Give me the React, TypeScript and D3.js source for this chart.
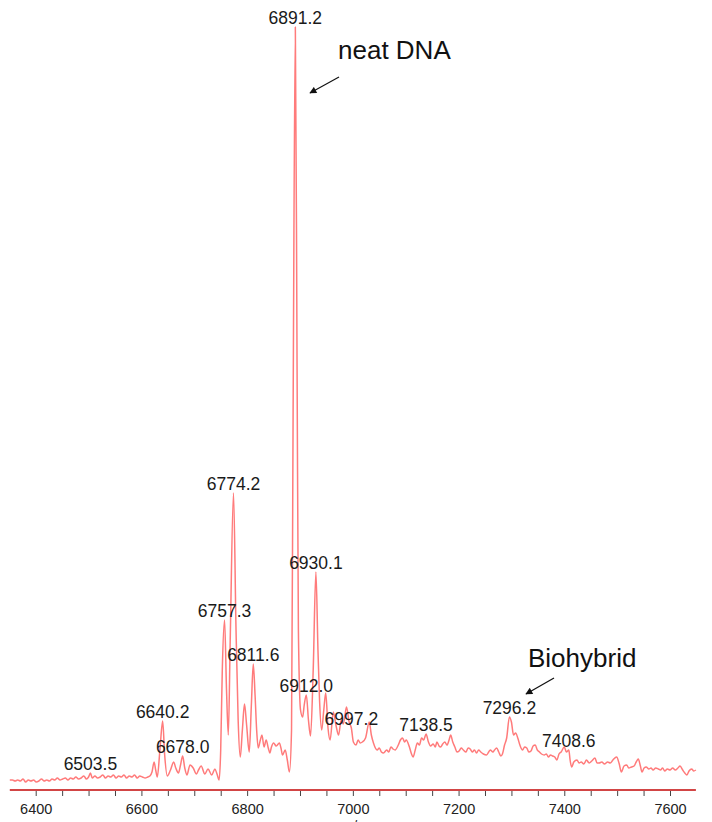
import React, { useEffect, useRef } from 'react';
import * as d3 from 'd3';

// MALDI spectrum: [m/z, intensity (a.u.)]
const spectrum: [number, number][] = [
  [6351, 10], [6356, 10], [6361, 9], [6366, 10], [6371, 9], [6376, 11], [6381, 8], [6386, 10],
  [6391, 9], [6396, 10], [6401, 8], [6406, 9], [6411, 11], [6416, 9], [6421, 10], [6426, 9],
  [6431, 11], [6436, 10], [6441, 12], [6446, 10], [6451, 11], [6456, 12], [6461, 10], [6466, 12],
  [6471, 11], [6476, 13], [6481, 11], [6486, 12], [6491, 14], [6496, 11], [6500, 13], [6503.5, 17],
  [6507, 12], [6512, 14], [6517, 12], [6522, 13], [6527, 15], [6532, 12], [6537, 14], [6542, 13],
  [6547, 15], [6552, 12], [6557, 14], [6562, 13], [6567, 15], [6572, 12], [6577, 14], [6582, 13],
  [6587, 15], [6592, 12], [6597, 14], [6602, 13], [6607, 12], [6612, 13], [6616, 14],
  [6620, 18], [6624, 28], [6627, 20], [6630, 13], [6635, 40], [6640.2, 69], [6644, 35], [6649, 14],
  [6655, 20], [6661, 28], [6665, 22], [6670, 17], [6674, 25], [6678, 34], [6682, 22], [6686, 15],
  [6692, 25], [6698, 22], [6704, 16], [6708, 20], [6713, 24], [6720, 16], [6726, 21], [6733, 15],
  [6739, 21], [6743, 16], [6747, 10], [6750, 40], [6753, 120], [6757.3, 170], [6761, 100],
  [6764.4, 55], [6768, 150], [6774.2, 297], [6779, 160], [6783, 70], [6787, 33], [6791, 60],
  [6795, 86], [6799, 65], [6804, 38], [6808, 85], [6811.6, 126], [6815, 95], [6818, 60], [6821, 42],
  [6825, 50], [6828, 55], [6832, 43], [6836, 50], [6840, 42], [6843, 37], [6846, 43], [6850, 47],
  [6855, 44], [6861, 47], [6864, 42], [6867, 35], [6872, 40], [6876, 30], [6880, 18], [6884, 60],
  [6887, 380], [6891.2, 763], [6894.5, 420], [6897, 160], [6901, 80], [6905, 73], [6908, 85],
  [6912, 95], [6916, 70], [6920, 54], [6925, 120], [6930.1, 218], [6934, 140], [6937, 90],
  [6941, 60], [6945, 80], [6948.7, 97], [6953, 62], [6957, 50], [6963, 78], [6968, 65], [6973, 55],
  [6978, 70], [6982, 66], [6988, 83], [6993, 68], [6997.2, 62], [7001, 48], [7006, 45], [7010, 50],
  [7014, 47], [7018, 48], [7024, 52], [7031, 68], [7035, 55], [7039, 47], [7046, 40], [7050, 42],
  [7054, 38], [7058, 37], [7064, 40], [7068, 38], [7072, 43], [7076, 41], [7080, 40], [7086, 45],
  [7090, 50], [7094, 52], [7098, 48], [7101, 50], [7107, 43], [7111, 36], [7114, 33], [7118, 40],
  [7122, 47], [7126, 45], [7130, 52], [7134, 50], [7138.5, 56], [7143, 48], [7147, 44], [7152, 46],
  [7156, 43], [7159, 48], [7163, 44], [7166, 43], [7170, 46], [7174, 48], [7178, 45], [7182, 50],
  [7185, 55], [7189, 48], [7193, 43], [7197, 38], [7201, 39], [7205, 42], [7209, 40], [7214, 38],
  [7218, 42], [7222, 41], [7226, 38], [7230, 40], [7234, 37], [7238, 40], [7242, 38], [7247, 36],
  [7253, 35], [7257, 38], [7260, 40], [7265, 38], [7268, 40], [7272, 42], [7276, 38], [7280, 34],
  [7283, 36], [7287, 45], [7291, 52], [7296.2, 73], [7300, 68], [7304, 55], [7308, 57], [7312, 52],
  [7316, 45], [7321, 40], [7325, 43], [7329, 42], [7333, 38], [7337, 39], [7341, 44], [7345, 45],
  [7349, 40], [7353, 38], [7357, 36], [7362, 35], [7366, 36], [7370, 33], [7374, 35], [7378, 34],
  [7382, 33], [7386, 30], [7390, 36], [7394, 38], [7400, 43], [7404, 38], [7408.6, 40], [7411, 30],
  [7414, 23], [7418, 28], [7424, 30], [7428, 27], [7432, 28], [7437, 26], [7442, 30], [7447, 27],
  [7452, 29], [7458, 32], [7462, 27], [7466, 27], [7471, 28], [7476, 26], [7482, 28], [7487, 27],
  [7492, 30], [7499, 33], [7504, 26], [7508, 18], [7513, 24], [7518, 25], [7522, 22], [7527, 23],
  [7532, 24], [7536, 28], [7540, 31], [7544, 24], [7547, 18], [7551, 22], [7555, 23], [7560, 21],
  [7564, 22], [7568, 20], [7573, 22], [7578, 21], [7582, 20], [7586, 22], [7590, 19], [7595, 21],
  [7600, 20], [7605, 22], [7610, 20], [7615, 22], [7619, 24], [7624, 20], [7628, 17], [7632, 15],
  [7636, 19], [7641, 21], [7645, 19], [7649, 20],
];

// peaks that carry an m/z label
const peakLabels = [
  6503.5, 6640.2, 6678.0, 6757.3, 6774.2, 6811.6, 6891.2, 6912.0, 6930.1, 6997.2, 7138.5, 7296.2,
  7408.6,
];

const tickValues = d3.range(6400, 7601, 50);
const labelledTicks = [6400, 6600, 6800, 7000, 7200, 7400, 7600];

const FONT = "'Liberation Sans', Arial, Helvetica, sans-serif";

const App: React.FC = () => {
  const ref = useRef<SVGSVGElement | null>(null);

  useEffect(() => {
    if (!ref.current) return;
    const svg = d3.select(ref.current);
    svg.selectAll('*').remove();

    const x = d3.scaleLinear().domain([6400, 7600]).range([35.7, 670]);
    const y = d3.scaleLinear().domain([0, 763]).range([790, 27]);
    const [xMin, xMax] = d3.extent(spectrum, (d) => d[0]) as [number, number];

    // arrow head
    svg
      .append('defs')
      .append('marker')
      .attr('id', 'arrow')
      .attr('viewBox', '0 0 10 10')
      .attr('refX', 9)
      .attr('refY', 5)
      .attr('markerWidth', 9)
      .attr('markerHeight', 7)
      .attr('markerUnits', 'userSpaceOnUse')
      .attr('orient', 'auto')
      .append('path')
      .attr('d', 'M0,0 L10,5 L0,10 Z')
      .attr('fill', '#111');

    // spectrum trace
    const line = d3
      .line<[number, number]>()
      .x((d) => x(d[0]))
      .y((d) => y(d[1]))
      .curve(d3.curveMonotoneX);

    svg
      .append('path')
      .datum(spectrum)
      .attr('d', line)
      .attr('fill', 'none')
      .attr('stroke', '#ff7b7b')
      .attr('stroke-width', 1.5)
      .attr('stroke-linejoin', 'round');

    // x axis: ticks via d3, baseline drawn in red
    const axis = svg
      .append('g')
      .attr('transform', `translate(0,${y(0)})`)
      .call(
        d3
          .axisBottom(x)
          .tickValues(tickValues)
          .tickSize(6)
          .tickPadding(8)
          .tickFormat((d) => (labelledTicks.includes(d as number) ? String(d) : ''))
      );
    axis.select('.domain').remove();
    axis.selectAll('.tick line').attr('stroke', '#444').attr('stroke-width', 1);
    axis
      .selectAll('.tick text')
      .attr('font-family', FONT)
      .attr('font-size', 14.5)
      .attr('fill', '#222');

    svg
      .append('line')
      .attr('x1', x(xMin))
      .attr('x2', x(xMax))
      .attr('y1', y(0))
      .attr('y2', y(0))
      .attr('stroke', '#d24545')
      .attr('stroke-width', 2);

    // axis title, cut by the bottom edge as in the original
    svg
      .append('text')
      .attr('x', x(7000))
      .attr('y', 831)
      .attr('text-anchor', 'middle')
      .attr('font-family', FONT)
      .attr('font-size', 14)
      .attr('fill', '#222')
      .text('m/z');

    // peak labels
    const intensityAt = (m: number) => spectrum.find((d) => d[0] === m)?.[1] ?? 0;
    svg
      .append('g')
      .selectAll('text')
      .data(peakLabels)
      .enter()
      .append('text')
      .attr('x', (d) => x(d))
      .attr('y', (d) => y(intensityAt(d)) - 3)
      .attr('text-anchor', 'middle')
      .attr('font-family', FONT)
      .attr('font-size', 17.5)
      .attr('fill', '#1a1a1a')
      .text((d) => d.toFixed(1));

    // annotations
    const notes = [
      { text: 'neat DNA', tx: 338, ty: 59, from: [339, 77], to: [310, 93] },
      { text: 'Biohybrid', tx: 528, ty: 667, from: [554, 678], to: [526, 694] },
    ];
    notes.forEach((n) => {
      svg
        .append('text')
        .attr('x', n.tx)
        .attr('y', n.ty)
        .attr('font-family', FONT)
        .attr('font-size', 26)
        .attr('fill', '#111')
        .text(n.text);
      svg
        .append('line')
        .attr('x1', n.from[0])
        .attr('y1', n.from[1])
        .attr('x2', n.to[0])
        .attr('y2', n.to[1])
        .attr('stroke', '#111')
        .attr('stroke-width', 1.2)
        .attr('marker-end', 'url(#arrow)');
    });
  }, []);

  return (
    <svg
      ref={ref}
      width={712}
      height={822}
      style={{ position: 'absolute', left: 0, top: 0, background: '#fff' }}
    />
  );
};

export default App;
